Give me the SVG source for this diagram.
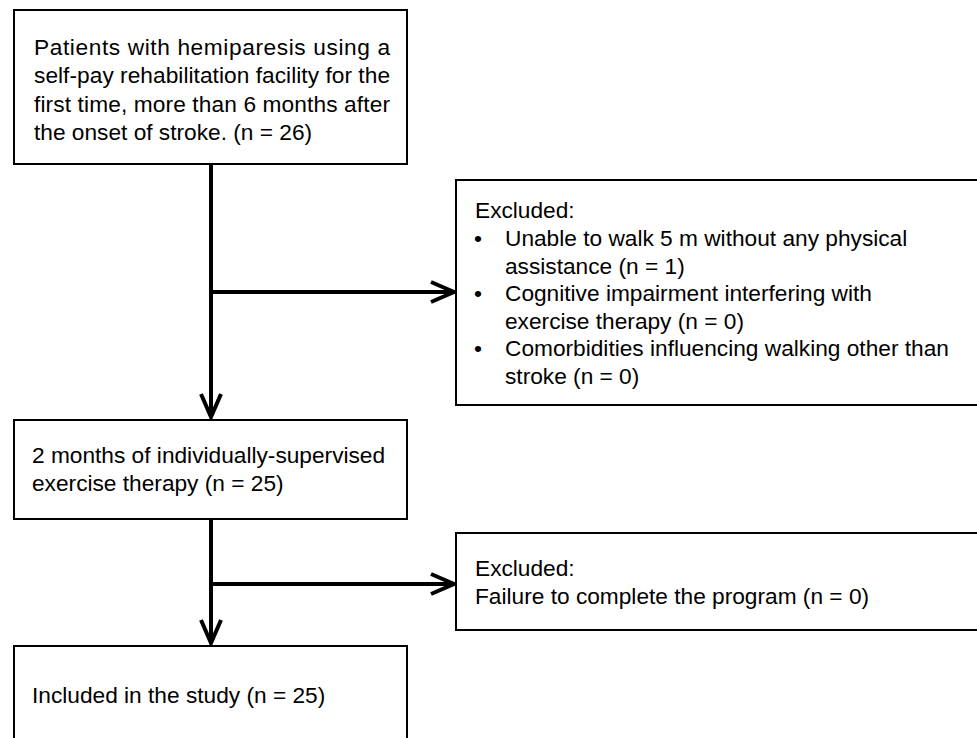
<svg xmlns="http://www.w3.org/2000/svg" width="977" height="738" viewBox="0 0 977 738">
<style>
.box{fill:#fff;stroke:#000;stroke-width:2}
.t{font-family:"Liberation Sans",Arial,Helvetica,sans-serif;font-size:22.7px;fill:#000}
.c{fill:none;stroke:#000;stroke-width:4}
</style>
<defs>
<marker id="arr" viewBox="0 0 30 26" refX="26" refY="13" markerWidth="30" markerHeight="26" markerUnits="userSpaceOnUse" orient="auto" overflow="visible">
<path d="M3,3 L26,13 L3,23" fill="none" stroke="#000" stroke-width="4"/>
</marker>
</defs>
<rect width="977" height="738" fill="#fff"/>
<g id="connectors">
<line class="c" x1="211" y1="164" x2="211" y2="417" marker-end="url(#arr)"/>
<line class="c" x1="211" y1="292" x2="454" y2="292" marker-end="url(#arr)"/>
<line class="c" x1="211" y1="519" x2="211" y2="643" marker-end="url(#arr)"/>
<line class="c" x1="211" y1="584" x2="454" y2="584" marker-end="url(#arr)"/>
</g>
<g id="n1">
<rect class="box" x="14" y="10" width="393" height="154"/>
<text class="t" x="34" y="55" textLength="356" lengthAdjust="spacing">Patients with hemiparesis using a</text>
<text class="t" x="34" y="83" textLength="356" lengthAdjust="spacing">self-pay rehabilitation facility for the</text>
<text class="t" x="34" y="112" textLength="356" lengthAdjust="spacing">first time, more than 6 months after</text>
<text class="t" x="34" y="140">the onset of stroke. (n = 26)</text>
</g>
<g id="n2">
<rect class="box" x="456" y="180" width="540" height="225"/>
<text class="t" x="475" y="218">Excluded:</text>
<text class="t" x="474" y="246">•</text>
<text class="t" x="505" y="246">Unable to walk 5 m without any physical</text>
<text class="t" x="505" y="274">assistance (n = 1)</text>
<text class="t" x="474" y="301">•</text>
<text class="t" x="505" y="301">Cognitive impairment interfering with</text>
<text class="t" x="505" y="329">exercise therapy (n = 0)</text>
<text class="t" x="474" y="356">•</text>
<text class="t" x="505" y="356">Comorbidities influencing walking other than</text>
<text class="t" x="505" y="384">stroke (n = 0)</text>
</g>
<g id="n3">
<rect class="box" x="14" y="420" width="393" height="99"/>
<text class="t" x="32" y="463">2 months of individually-supervised</text>
<text class="t" x="32" y="491">exercise therapy (n = 25)</text>
</g>
<g id="n4">
<rect class="box" x="456" y="533" width="540" height="97"/>
<text class="t" x="475" y="576">Excluded:</text>
<text class="t" x="475" y="604">Failure to complete the program (n = 0)</text>
</g>
<g id="n5">
<rect class="box" x="14" y="646" width="393" height="110"/>
<text class="t" x="32" y="703">Included in the study (n = 25)</text>
</g>
</svg>
